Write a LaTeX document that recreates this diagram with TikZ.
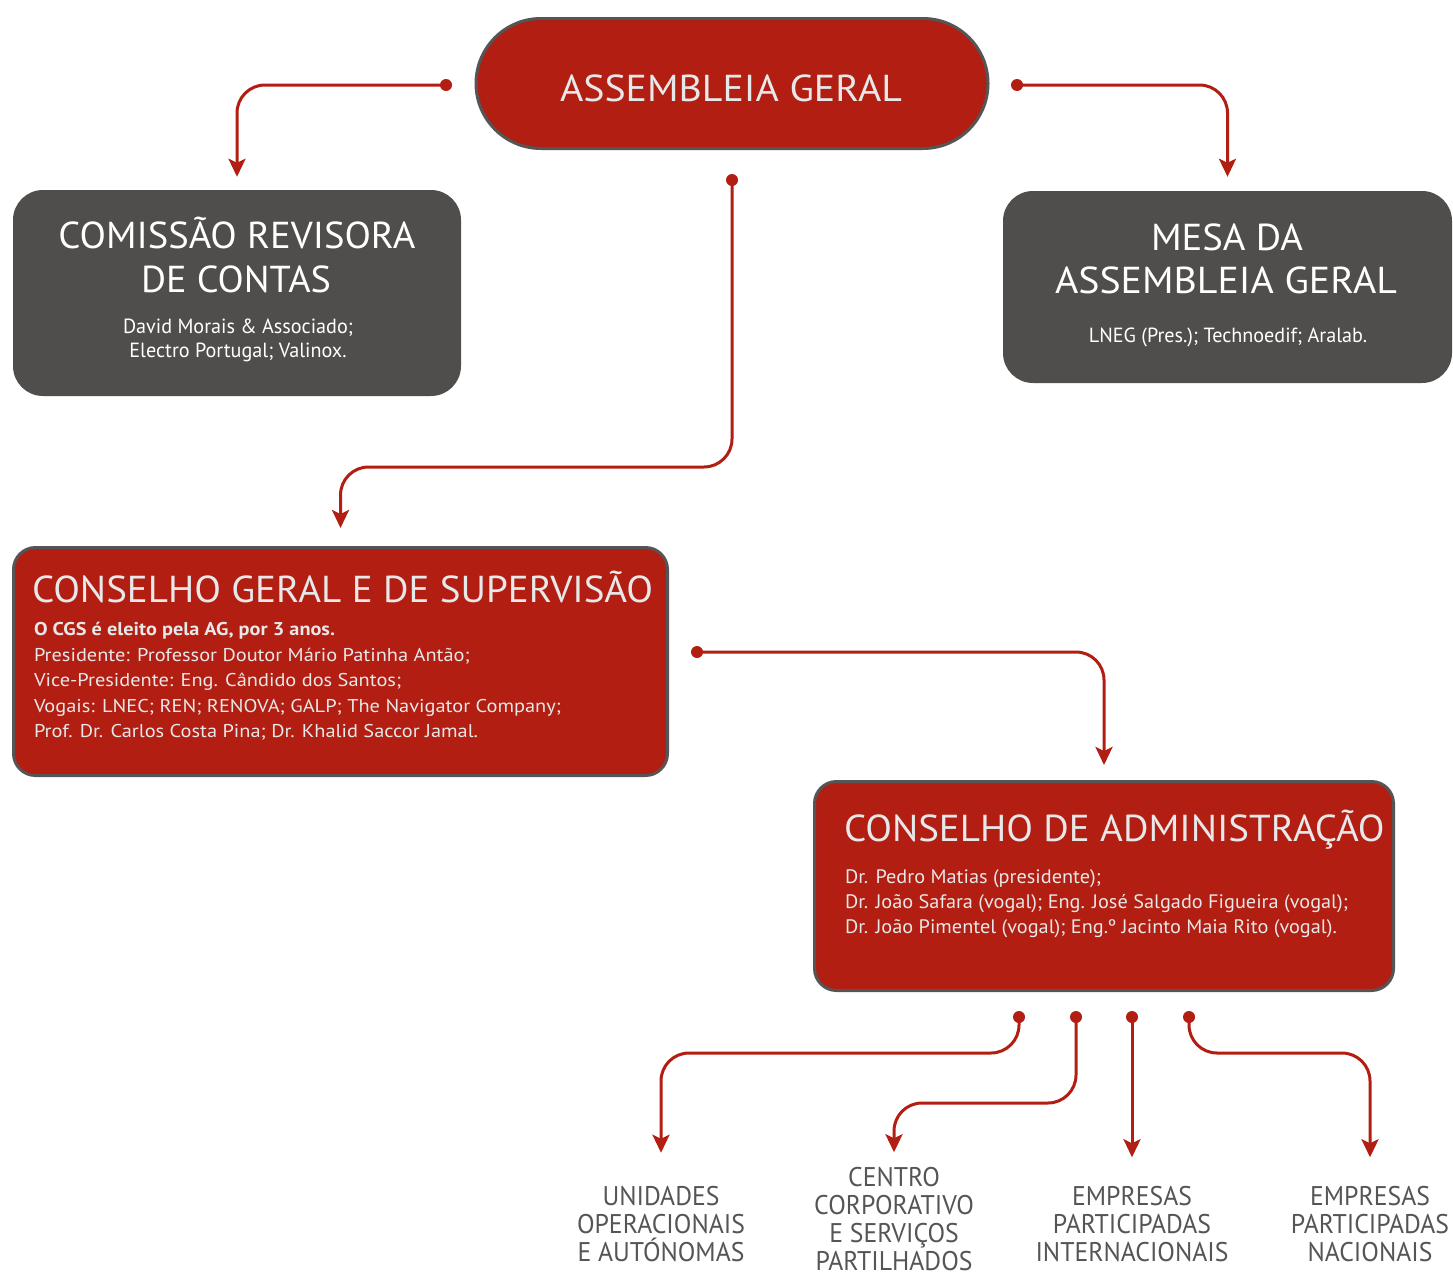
\documentclass[tikz,border=0pt]{standalone}
\usepackage{fontspec}
\usepackage{graphicx}
\setmainfont{PT Sans}
\usetikzlibrary{arrows.meta}

\definecolor{agred}{HTML}{B21E11}
\definecolor{boxgray}{HTML}{4F4E4C}
\definecolor{edgegray}{HTML}{555555}
\definecolor{lblgray}{HTML}{555555}
\definecolor{boxtext}{HTML}{E6E8E9}

\newlength\mwid
\newcommand\setsx[3]{\settowidth{\mwid}{#2}\pgfmathsetmacro#1{#3/\mwid}}
\newcommand\fTitle{\fontsize{37.5}{40}\selectfont}
\newcommand\fSub{\fontsize{20.5}{24}\selectfont}
\newcommand\fBody{\fontsize{18.5}{25}\selectfont}
\newcommand\fCA{\fontsize{19.5}{25}\selectfont}
\newcommand\fLbl{\fontsize{27}{29}\selectfont}
\newcommand\TT[1]{{\fTitle\scalebox{\sxT}[1]{#1}}}
\newcommand\TW[2]{{\fTitle\resizebox{#1pt}{\height}{#2}}}
\newcommand\TR[1]{{\fTitle\scalebox{\sxR}[1]{#1}}}
\newcommand\TS[1]{{\fSub\scalebox{\sxS}[1]{#1}}}
\newcommand\TB[1]{{\fBody\scalebox{\sxB}[1]{#1}}}
\newcommand\TK[1]{{\fBody\bfseries\scalebox{\sxK}[1]{#1}}}
\newcommand\TC[1]{{\fCA\scalebox{\sxC}[1]{#1}}}
\newcommand\TL[1]{{\fLbl\scalebox{\sxL}[1]{#1}}}

\tikzset{
  txt/.style={inner sep=0pt, outer sep=0pt},
  wtxt/.style={txt, text=white, anchor=base},
  rtxt/.style={txt, text=boxtext, anchor=base west},
  lbl/.style={txt, text=lblgray, anchor=base},
  graybox/.style={fill=boxgray, draw=none, rounded corners=30pt},
  redbox/.style={fill=agred, draw=edgegray, line width=3pt, rounded corners=22pt},
  conn/.style={draw=agred, line width=3pt, rounded corners=28pt,
    -{Stealth[length=18pt,width=17pt,inset=4pt]}},
  dot/.style={circle, fill=agred, inner sep=0pt, minimum size=12pt},
}

\begin{document}%
\setsx\sxT{\fTitle ASSEMBLEIA GERAL}{342}%
\setsx\sxR{\fTitle CONSELHO GERAL E DE SUPERVISÃO}{621}%
\setsx\sxS{\fSub David Morais \& Associado;}{230}%
\setsx\sxB{\fBody Vogais: LNEC; REN; RENOVA; GALP; The Navigator Company;}{527}%
\setsx\sxK{\fBody\bfseries O CGS é eleito pela AG, por 3 anos.}{301}%
\setsx\sxC{\fCA Dr. João Safara (vogal); Eng. José Salgado Figueira (vogal);}{503}%
\setsx\sxL{\fLbl INTERNACIONAIS}{193}%
\begin{tikzpicture}[x=1pt,y=-1pt]
\fill[white] (0,0) rectangle (1453,1274);
\useasboundingbox (0,0) rectangle (1453,1274);

% boxes
\node[redbox, minimum width=512pt, minimum height=130pt, rounded corners=65pt] (ag) at (732,83.5) {};
\node[graybox, minimum width=448pt, minimum height=206pt] (crc) at (237,293) {};
\node[graybox, minimum width=449pt, minimum height=192pt] (mesa) at (1227.5,287) {};
\node[redbox, minimum width=654pt, minimum height=228pt] (cgs) at (340.5,661.5) {};
\node[redbox, minimum width=579pt, minimum height=209pt] (ca) at (1104,886) {};

% texts
\node[txt, text=boxtext, anchor=base] (agt) at (731,101) {\TT{ASSEMBLEIA GERAL}};

\node[wtxt] (crc1) at (237,248) {\TW{357}{COMISSÃO REVISORA}};
\node[wtxt] (crc2) at (236,292) {\TW{190}{DE CONTAS}};
\node[wtxt] (crc3) at (238,333) {\TS{David Morais \& Associado;}};
\node[wtxt] (crc4) at (238,357) {\TS{Electro Portugal; Valinox.}};

\node[wtxt] (mesa1) at (1227,250) {\TW{152}{MESA DA}};
\node[wtxt] (mesa2) at (1226,293) {\TT{ASSEMBLEIA GERAL}};
\node[wtxt] (mesa3) at (1228,342) {\TS{LNEG (Pres.); Technoedif; Aralab.}};

\node[rtxt] (cgs1) at (32,602) {\TR{CONSELHO GERAL E DE SUPERVISÃO}};
\node[rtxt] (cgs2) at (34,635) {\TK{O CGS é eleito pela AG, por 3 anos.}};
\node[rtxt] (cgs3) at (34,661) {\TB{Presidente: Professor Doutor Mário Patinha Antão;}};
\node[rtxt] (cgs4) at (34,686.5) {\TB{Vice-Presidente: Eng. Cândido dos Santos;}};
\node[rtxt] (cgs5) at (34,712) {\TB{Vogais: LNEC; REN; RENOVA; GALP; The Navigator Company;}};
\node[rtxt] (cgs6) at (34,737.5) {\TB{Prof. Dr. Carlos Costa Pina; Dr. Khalid Saccor Jamal.}};

\node[rtxt] (ca1) at (844,841) {\TR{CONSELHO DE ADMINISTRAÇÃO}};
\node[rtxt] (ca2) at (845,883) {\TC{Dr. Pedro Matias (presidente);}};
\node[rtxt] (ca3) at (845,908) {\TC{Dr. João Safara (vogal); Eng. José Salgado Figueira (vogal);}};
\node[rtxt] (ca4) at (845,933) {\TC{Dr. João Pimentel (vogal); Eng.º Jacinto Maia Rito (vogal).}};

\node[lbl] (l1a) at (661,1205) {\TL{UNIDADES}};
\node[lbl] (l1b) at (661,1233) {\TL{OPERACIONAIS}};
\node[lbl] (l1c) at (661,1261) {\TL{E AUTÓNOMAS}};

\node[lbl] (l2a) at (894,1186) {\TL{CENTRO}};
\node[lbl] (l2b) at (894,1214) {\TL{CORPORATIVO}};
\node[lbl] (l2c) at (894,1242) {\TL{E SERVIÇOS}};
\node[lbl] (l2d) at (894,1270) {\TL{PARTILHADOS}};

\node[lbl] (l3a) at (1132,1205) {\TL{EMPRESAS}};
\node[lbl] (l3b) at (1132,1233) {\TL{PARTICIPADAS}};
\node[lbl] (l3c) at (1132,1261) {\TL{INTERNACIONAIS}};

\node[lbl] (l4a) at (1370,1205) {\TL{EMPRESAS}};
\node[lbl] (l4b) at (1370,1233) {\TL{PARTICIPADAS}};
\node[lbl] (l4c) at (1370,1261) {\TL{NACIONAIS}};

% dots
\node[dot] (agL) at (446,85) {};
\node[dot] (agR) at (1017,85) {};
\node[dot] (agB) at (732,180) {};
\node[dot] (cgsD) at (697,652) {};
\node[dot] (b1) at (1019,1017) {};
\node[dot] (b2) at (1076,1017) {};
\node[dot] (b3) at (1132,1017) {};
\node[dot] (b4) at (1189,1017) {};

% connectors
\draw[conn, shorten >=13pt] (agL.center) -| (crc.north);
\draw[conn, shorten >=14pt] (agR.center) -| (mesa.north);
\draw[conn, shorten >=18pt] (agB.center) -- ++(0,287) -| (cgs.north);
\draw[conn, shorten >=15pt] (cgsD.center) -| (ca.north);
\draw[conn, shorten >=33pt] (b1.center) -- ++(0,36) -| (l1a.north);
\draw[conn, shorten >=14.5pt] (b2.center) -- ++(0,86) -| (l2a.north);
\draw[conn, shorten >=28.5pt] (b3.center) -- (l3a.north);
\draw[conn, shorten >=28.5pt] (b4.center) -- ++(0,36) -| (l4a.north);
\end{tikzpicture}
\end{document}
